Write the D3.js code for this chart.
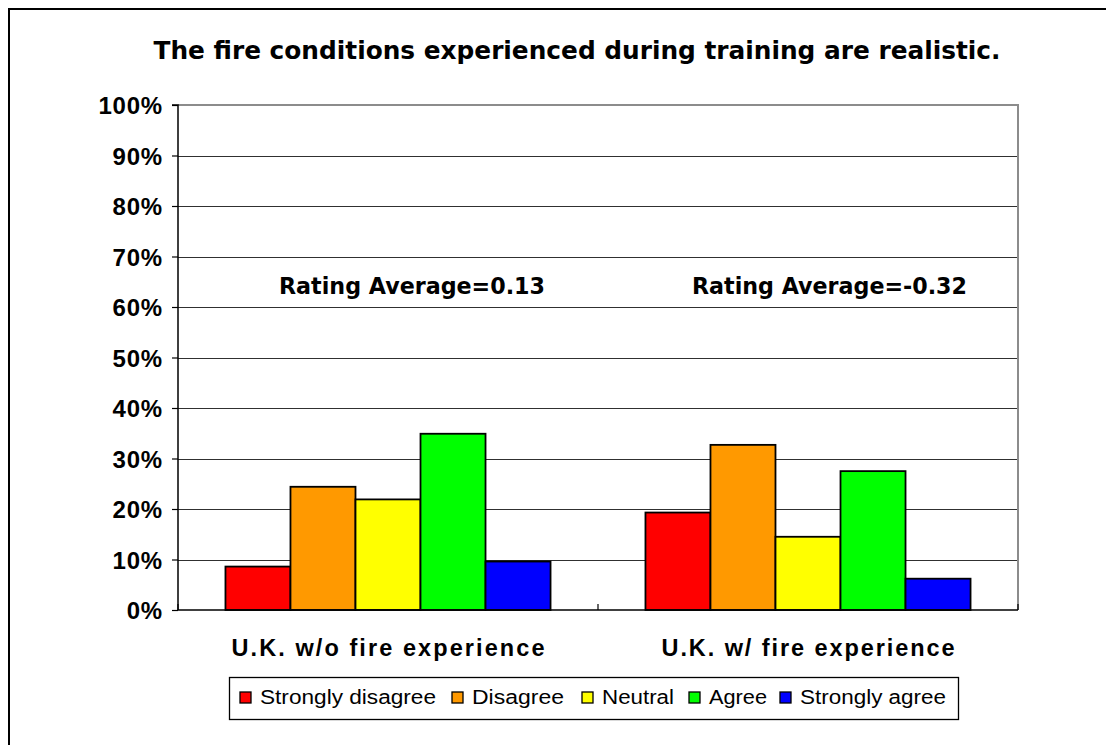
<!DOCTYPE html>
<html>
<head>
<meta charset="utf-8">
<script src="https://cdn.jsdelivr.net/npm/d3@7"></script>
<style>
  html, body { margin: 0; padding: 0; background: #fff; }
  svg { display: block; }
</style>
</head>
<body>
<svg id="chart" width="1106" height="745"></svg>
<script>
const title = "The fire conditions experienced during training are realistic.";
const categories = ["U.K. w/o fire experience", "U.K. w/ fire experience"];
const seriesNames = ["Strongly disagree", "Disagree", "Neutral", "Agree", "Strongly agree"];
const seriesColors = ["#ff0000", "#ff9900", "#ffff00", "#00ff00", "#0000ff"];
const valuesWithout = [0.086, 0.244, 0.219, 0.349, 0.096];
const valuesWith = [0.193, 0.327, 0.145, 0.275, 0.062];
const ratingLabels = ["Rating Average=0.13", "Rating Average=-0.32"];
const yTicks = [0, 0.1, 0.2, 0.3, 0.4, 0.5, 0.6, 0.7, 0.8, 0.9, 1.0];

const groupValues = [valuesWithout, valuesWith];

const svg = d3.select("#chart");

// outer frame
svg.append("path")
  .attr("d", "M9,745 V9 H1106")
  .attr("fill", "none")
  .attr("stroke", "#000")
  .attr("stroke-width", 2);

const plot = { left: 178, right: 1018, top: 105, bottom: 610 };

const y = d3.scaleLinear().domain([0, 1]).range([plot.bottom, plot.top]);
const x0 = d3.scaleBand().domain(categories).range([plot.left, plot.right]).paddingInner(0).paddingOuter(0);
const x1 = d3.scaleBand().domain(seriesNames).range([0, x0.bandwidth()]).paddingInner(0).paddingOuter(0.73);

// title
svg.append("text")
  .attr("x", 577).attr("y", 59)
  .attr("text-anchor", "middle")
  .attr("font-family", "'DejaVu Sans', sans-serif")
  .attr("font-weight", "bold")
  .attr("font-size", 25)
  .attr("textLength", 847)
  .attr("lengthAdjust", "spacingAndGlyphs")
  .text(title);

// gridlines
svg.append("g")
  .selectAll("line")
  .data(yTicks.filter(t => t > 0 && t < 1))
  .join("line")
  .attr("x1", plot.left).attr("x2", plot.right)
  .attr("y1", d => Math.round(y(d)) + 0.5).attr("y2", d => Math.round(y(d)) + 0.5)
  .attr("stroke", "#303030")
  .attr("stroke-width", 1.2);

// plot border top/right (gray)
svg.append("path")
  .attr("d", `M${plot.left},${y(1)} H${plot.right} V${plot.bottom}`)
  .attr("fill", "none")
  .attr("stroke", "#8c8c8c")
  .attr("stroke-width", 2);

// bars
const groups = svg.append("g")
  .selectAll("g")
  .data(categories)
  .join("g")
  .attr("transform", d => `translate(${x0(d)},0)`);

groups.selectAll("rect")
  .data((d, i) => groupValues[i].map((v, j) => ({ name: seriesNames[j], value: v, color: seriesColors[j] })))
  .join("rect")
  .attr("x", d => x1(d.name))
  .attr("y", d => y(d.value))
  .attr("width", x1.bandwidth())
  .attr("height", d => y(0) - y(d.value))
  .attr("fill", d => d.color)
  .attr("stroke", "#000")
  .attr("stroke-width", 1.8);

// y axis
const yAxis = d3.axisLeft(y)
  .tickValues(yTicks)
  .tickSize(6)
  .tickPadding(9)
  .tickFormat(d3.format(".0%"));
const yg = svg.append("g")
  .attr("transform", `translate(${plot.left},0)`)
  .call(yAxis);
yg.select(".domain").attr("stroke", "#000").attr("stroke-width", 1.5).attr("d", `M-6,${y(1)}H0V${y(0)}`);
yg.selectAll(".tick line").attr("stroke", "#000").attr("stroke-width", 1.2);
yg.selectAll(".tick text")
  .attr("font-family", "Arial, 'Liberation Sans', sans-serif")
  .attr("font-weight", "bold")
  .attr("font-size", 24)
  .attr("letter-spacing", 0.8)
  .attr("fill", "#000")
  .attr("dy", "0.36em");

// x axis
const xg = svg.append("g");
xg.append("line")
  .attr("x1", plot.left).attr("x2", plot.right)
  .attr("y1", plot.bottom).attr("y2", plot.bottom)
  .attr("stroke", "#000").attr("stroke-width", 1.5);
const boundaries = [plot.left, ...categories.map(c => x0(c) + x0.bandwidth())];
xg.selectAll("line.tk")
  .data(boundaries)
  .join("line")
  .attr("class", "tk")
  .attr("x1", d => d).attr("x2", d => d)
  .attr("y1", plot.bottom).attr("y2", plot.bottom - 6)
  .attr("stroke", "#000").attr("stroke-width", 1.2);

const catWidths = [313, 293];
xg.selectAll("text.cat")
  .data(categories)
  .join("text")
  .attr("class", "cat")
  .attr("x", d => x0(d) + x0.bandwidth() / 2)
  .attr("y", 656)
  .attr("text-anchor", "middle")
  .attr("font-family", "Arial, 'Liberation Sans', sans-serif")
  .attr("font-weight", "bold")
  .attr("font-size", 23.5)
  .attr("textLength", (d, i) => catWidths[i])
  .attr("lengthAdjust", "spacing")
  .text(d => d);

// rating annotations
const ratingX = [279, 692];
const ratingW = [266, 275];
svg.selectAll("text.rating")
  .data(ratingLabels)
  .join("text")
  .attr("class", "rating")
  .attr("x", (d, i) => ratingX[i])
  .attr("y", 294)
  .attr("font-family", "'DejaVu Sans', sans-serif")
  .attr("font-weight", "bold")
  .attr("font-size", 23)
  .attr("textLength", (d, i) => ratingW[i])
  .attr("lengthAdjust", "spacingAndGlyphs")
  .text(d => d);

// legend
const legend = svg.append("g");
legend.append("rect")
  .attr("x", 229.5).attr("y", 677.5)
  .attr("width", 729).attr("height", 42)
  .attr("fill", "#fff").attr("stroke", "#000").attr("stroke-width", 1.3);
const legSquareX = [240, 452, 582, 689, 780];
const legTextW = [176, 92, 72, 58, 146];
const items = legend.selectAll("g.item")
  .data(seriesNames)
  .join("g")
  .attr("class", "item")
  .attr("transform", (d, i) => `translate(${legSquareX[i]},0)`);
items.append("rect")
  .attr("x", 0).attr("y", 692)
  .attr("width", 11).attr("height", 11)
  .attr("fill", (d, i) => seriesColors[i])
  .attr("stroke", "#000").attr("stroke-width", 1.3);
items.append("text")
  .attr("x", 20).attr("y", 704)
  .attr("font-family", "Arial, 'Liberation Sans', sans-serif")
  .attr("font-size", 20)
  .attr("textLength", (d, i) => legTextW[i])
  .attr("lengthAdjust", "spacingAndGlyphs")
  .text(d => d);
</script>
</body>
</html>
